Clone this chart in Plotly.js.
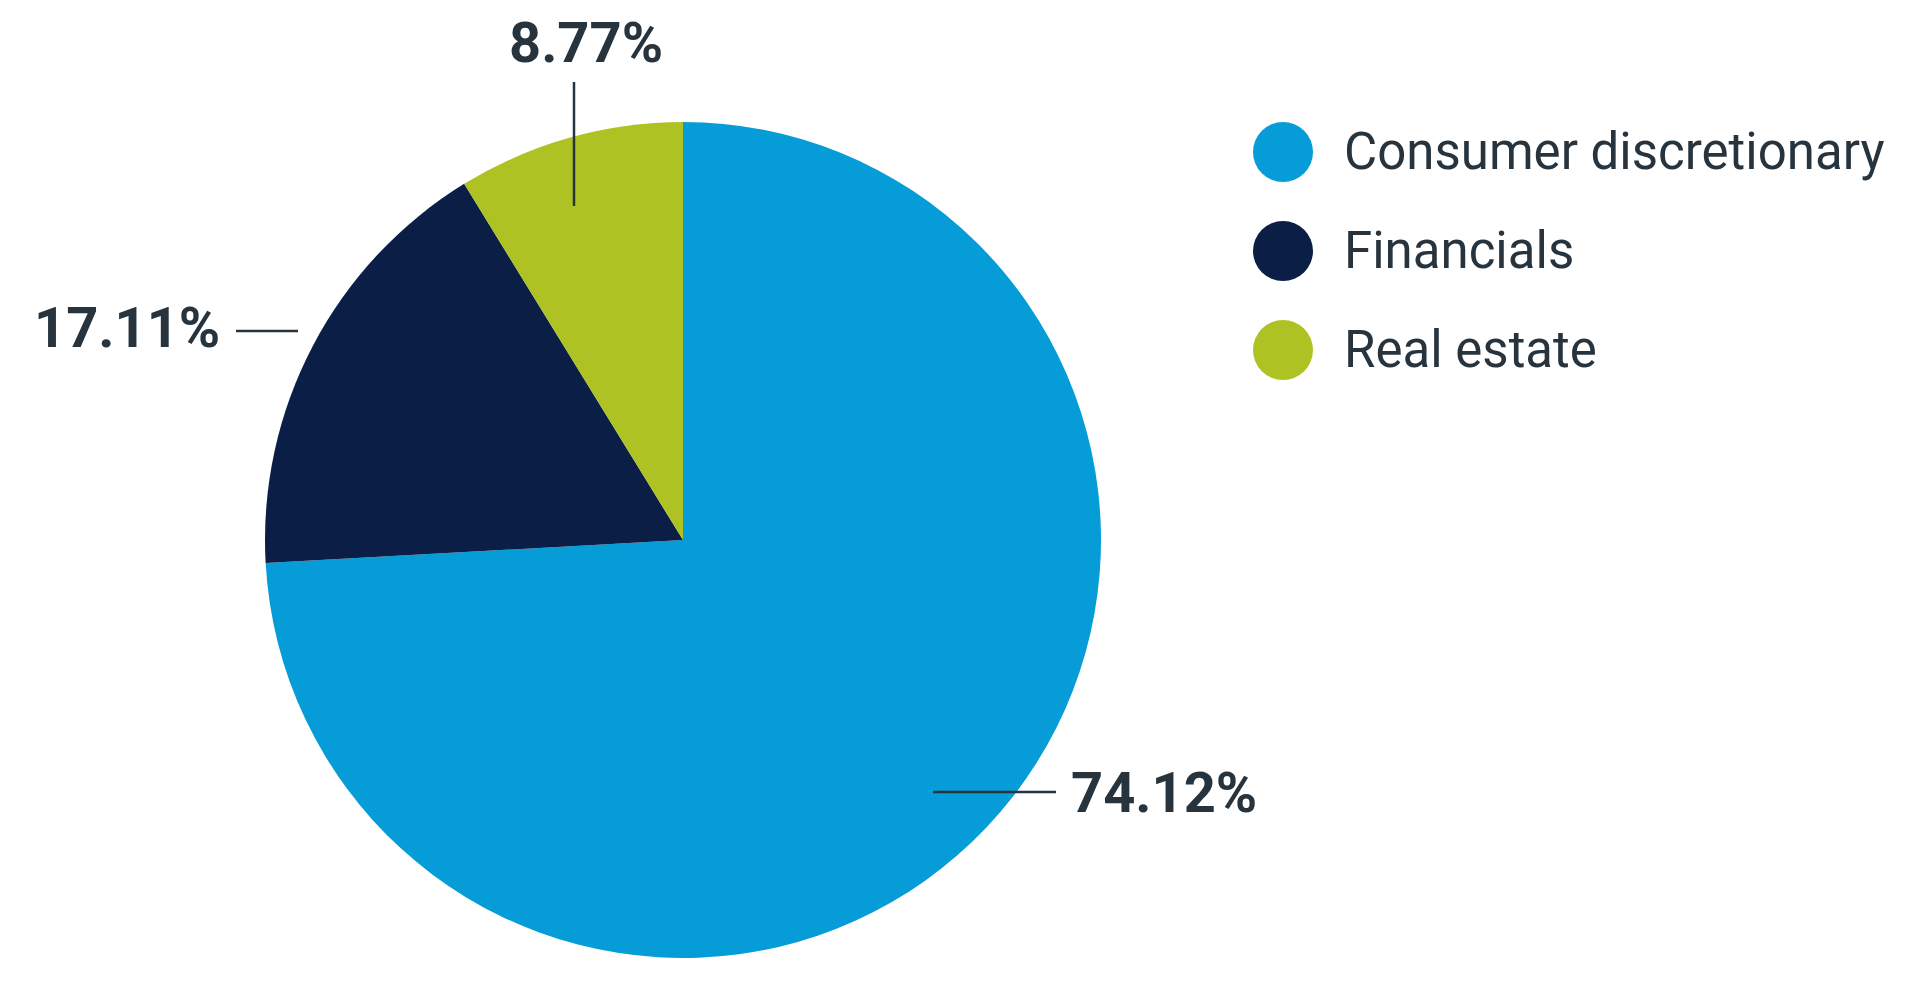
<!DOCTYPE html>
<html>
<head>
<meta charset="utf-8">
<script src="https://cdn.plot.ly/plotly-3.0.1.min.js"></script>
<style>
html,body{margin:0;padding:0;background:#fff;}
#chart{width:1921px;height:987px;}
</style>
</head>
<body>
<div id="chart"></div>
<script>
// ---- data ----
const categories = ["Consumer discretionary", "Financials", "Real estate"];
const values = [74.12, 17.11, 8.77];
const colors = ["#069CD8", "#0A1E46", "#AEC323"];

// ---- helpers (pixel -> paper) ----
const W = 1921, H = 987;
const px = x => x / W;
const py = y => 1 - y / H;
const fmt = v => v.toFixed(2) + "%";
const textColor = "#27343E";

const pie = {
  type: "pie",
  labels: categories,
  values: values,
  marker: {colors: colors, line: {width: 0}},
  sort: false,
  direction: "clockwise",
  rotation: 0,
  textinfo: "none",
  hoverinfo: "label+percent",
  showlegend: false,
  domain: {x: [px(265), px(1101)], y: [py(958), py(122)]}
};

const legendIdx = categories.map((c, i) => i);
const legendDots = {
  type: "scatter",
  mode: "markers",
  x: categories.map(() => 0),
  y: legendIdx,
  marker: {size: 60, color: colors, line: {width: 0}},
  cliponaxis: false,
  hoverinfo: "skip",
  showlegend: false
};
const legendText = {
  type: "scatter",
  mode: "text",
  x: categories.map(() => 1),
  y: legendIdx,
  xaxis: "x2",
  yaxis: "y2",
  text: categories,
  textposition: "middle right",
  textfont: {family: "Roboto, sans-serif", size: 51, color: textColor},
  cliponaxis: false,
  hoverinfo: "skip",
  showlegend: false
};

// label placement (layout)
const labelPos = [
  {x: 1069, y: 793, xanchor: "left"},
  {x: 222, y: 328, xanchor: "right"},
  {x: 586, y: 43, xanchor: "center"}
];
const leaderLines = [
  [933, 792, 1056, 792],
  [236, 331, 298, 331],
  [574, 82, 574, 206]
];

const annotations = values.map((v, i) => ({
  text: fmt(v),
  xref: "paper", yref: "paper",
  x: px(labelPos[i].x), y: py(labelPos[i].y),
  xanchor: labelPos[i].xanchor, yanchor: "middle",
  showarrow: false,
  font: {family: "Roboto, sans-serif", size: 56, color: textColor, weight: 700}
}));

const shapes = leaderLines.map(l => ({
  type: "line", xref: "paper", yref: "paper",
  x0: px(l[0]), y0: py(l[1]), x1: px(l[2]), y1: py(l[3]),
  line: {color: textColor, width: 2.5}
}));

const layout = {
  width: W, height: H,
  margin: {l: 0, r: 0, t: 0, b: 0},
  paper_bgcolor: "#fff",
  plot_bgcolor: "rgba(0,0,0,0)",
  showlegend: false,
  xaxis: {domain: [px(1283), 1], range: [0, (W - 1283) / 58], visible: false, fixedrange: true},
  yaxis: {domain: [py(350), py(152)], range: [2, 0], visible: false, fixedrange: true},
  xaxis2: {domain: [px(1286), 1], range: [0, (W - 1286) / 58], visible: false, fixedrange: true, anchor: "y2"},
  yaxis2: {domain: [py(354), py(156)], range: [2, 0], visible: false, fixedrange: true, anchor: "x2"},
  annotations: annotations,
  shapes: shapes
};

Plotly.newPlot("chart", [pie, legendDots, legendText], layout, {displayModeBar: false, staticPlot: true});
</script>
</body>
</html>
